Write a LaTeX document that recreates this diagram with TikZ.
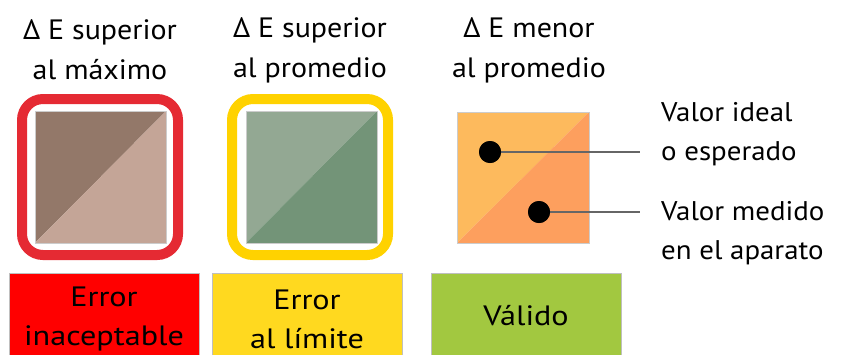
\documentclass[tikz,border=0pt]{standalone}
\usepackage{fontspec}
\setmainfont{PT Sans}
\newfontfamily\headfont[FakeStretch=1.07]{PT Sans}
\newfontfamily\badgefont[FakeStretch=1.15]{PT Sans}
\definecolor{rojo}{HTML}{E52A33}
\definecolor{amarillo}{HTML}{FFD200}
\definecolor{cafeO}{HTML}{937869}
\definecolor{cafeC}{HTML}{C4A597}
\definecolor{verdeC}{HTML}{93A893}
\definecolor{verdeO}{HTML}{739478}
\definecolor{naranjaC}{HTML}{FDBA5D}
\definecolor{naranjaO}{HTML}{FD9F5E}
\definecolor{boxRojo}{HTML}{FF0000}
\definecolor{boxAmarillo}{HTML}{FFD91F}
\definecolor{boxVerde}{HTML}{A2C840}
\definecolor{linea}{HTML}{666666}
\tikzset{
  head/.style={align=center, font=\headfont\fontsize{28}{40}\selectfont, inner sep=0pt},
  side/.style={align=left, anchor=west, font=\headfont\fontsize{27}{39}\selectfont, inner sep=0pt},
  frame/.style={line width=10pt, rounded corners=21pt},
  badge/.style={draw=black!25, line width=0.8pt, minimum width=190pt, minimum height=85pt, anchor=north west, inner sep=0pt},
  badgetext/.style={align=center, inner sep=0pt, font=\badgefont\fontsize{28}{39}\selectfont},
  dot/.style={circle, fill=black, minimum size=22pt, inner sep=0pt},
  sq/.style={draw=black!20, line width=0.6pt}
}
\begin{document}
\begin{tikzpicture}[x=1pt,y=-1pt]
\useasboundingbox (0,0) rectangle (845,354);
% headings
\node[head] (h1) at (100,50) {Δ E superior\\al máximo};
\node[head] (h2) at (310,50) {Δ E superior\\al promedio};
\node[head] (h3) at (529,50) {Δ E menor\\al promedio};
% square 1
\fill[cafeO] (35,111) -- (166,111) -- (35,243) -- cycle;
\fill[cafeC] (166,111) -- (166,243) -- (35,243) -- cycle;
\draw[sq] (35,111) rectangle (166,243);
\draw[frame, draw=rojo] (22,99) rectangle (178,255);
% square 2
\fill[verdeC] (246,111) -- (377,111) -- (246,243) -- cycle;
\fill[verdeO] (377,111) -- (377,243) -- (246,243) -- cycle;
\draw[sq] (246,111) rectangle (377,243);
\draw[frame, draw=amarillo] (232,99) rectangle (388,255);
% square 3
\fill[naranjaC] (457,112) -- (589,112) -- (457,243) -- cycle;
\fill[naranjaO] (589,112) -- (589,243) -- (457,243) -- cycle;
\draw[sq] (457,112) rectangle (589,243);
\node[dot] (d1) at (490,152) {};
\node[dot] (d2) at (539,212) {};
\coordinate (e1) at (640,152);
\coordinate (e2) at (640,212);
\draw[linea, line width=2pt] (d1.center) -- (e1);
\draw[linea, line width=2pt] (d2.center) -- (e2);
\node[dot] at (d1) {};
\node[dot] at (d2) {};
\node[side] (t1) at (661,134) {Valor ideal\\o esperado};
\node[side] (t2) at (661,233) {Valor medido\\en el aparato};
% badges
\node[badge, fill=boxRojo] (b1) at (9,273) {};
\node[badge, fill=boxAmarillo] (b2) at (212,273) {};
\node[badge, fill=boxVerde] (b3) at (431,273) {};
\node[badgetext] (l1) at (104,319) {Error\\inaceptable};
\node[badgetext] (l2) at (307,319) {Error\\al límite};
\node[badgetext] (l3) at (526,316) {Válido};
\end{tikzpicture}
\end{document}
